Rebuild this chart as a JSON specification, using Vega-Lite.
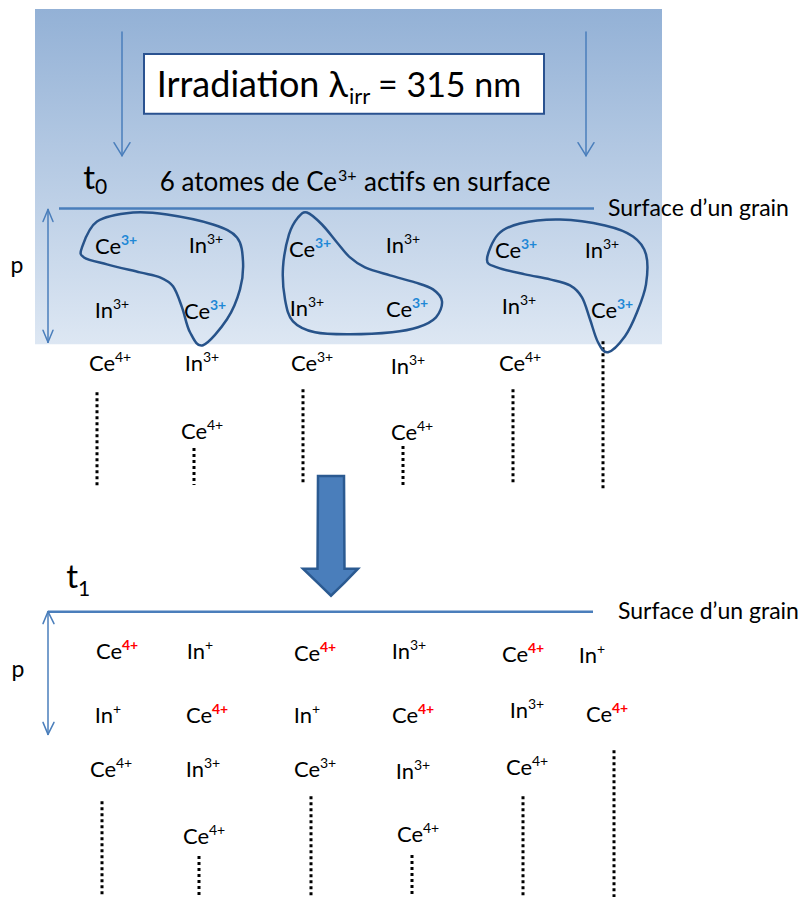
{
  "$schema": "https://vega.github.io/schema/vega-lite/v6.json",
  "width": 804,
  "height": 899,
  "padding": 0,
  "autosize": {"type": "fit", "contains": "padding"},
  "background": "white",
  "config": {"view": {"stroke": null}, "text": {"font": "Lato"}},
  "datasets": {
    "panel": [{"x": 35, "x2": 662, "y": 9, "y2": 345}],
    "box": [{"x": 144, "x2": 544, "y": 54, "y2": 114}],
    "blueThin": [
      {"x": 122, "y": 32, "x2": 122, "y2": 156},
      {"x": 114, "y": 143, "x2": 122, "y2": 156},
      {"x": 130, "y": 143, "x2": 122, "y2": 156},
      {"x": 586, "y": 32, "x2": 586, "y2": 156},
      {"x": 578, "y": 143, "x2": 586, "y2": 156},
      {"x": 594, "y": 143, "x2": 586, "y2": 156},
      {"x": 48, "y": 210, "x2": 48, "y2": 343},
      {"x": 43, "y": 222, "x2": 48, "y2": 210},
      {"x": 53, "y": 222, "x2": 48, "y2": 210},
      {"x": 43, "y": 331, "x2": 48, "y2": 343},
      {"x": 53, "y": 331, "x2": 48, "y2": 343},
      {"x": 48, "y": 613, "x2": 48, "y2": 736},
      {"x": 43, "y": 625, "x2": 48, "y2": 613},
      {"x": 54, "y": 625, "x2": 48, "y2": 613},
      {"x": 43, "y": 724, "x2": 48, "y2": 736},
      {"x": 54, "y": 724, "x2": 48, "y2": 736}
    ],
    "surfaces": [
      {"x": 59, "y": 209, "x2": 594, "y2": 209},
      {"x": 48, "y": 613, "x2": 593, "y2": 613}
    ],
    "dots": [
      {"x": 97, "y": 393, "y2": 489},
      {"x": 194, "y": 449, "y2": 486},
      {"x": 303, "y": 390, "y2": 485},
      {"x": 403, "y": 447, "y2": 486},
      {"x": 513, "y": 390, "y2": 485},
      {"x": 603, "y": 342, "y2": 491},
      {"x": 102, "y": 803, "y2": 899},
      {"x": 199, "y": 858, "y2": 899},
      {"x": 311, "y": 798, "y2": 899},
      {"x": 412, "y": 857, "y2": 899},
      {"x": 523, "y": 798, "y2": 899},
      {"x": 614, "y": 752, "y2": 899}
    ],
    "blobs": [
      {"blob": "A", "i": 1, "x": 82, "y": 248},
      {"blob": "A", "i": 2, "x": 97, "y": 222},
      {"blob": "A", "i": 3, "x": 133, "y": 213},
      {"blob": "A", "i": 4, "x": 167, "y": 215},
      {"blob": "A", "i": 5, "x": 213, "y": 225},
      {"blob": "A", "i": 6, "x": 237, "y": 238},
      {"blob": "A", "i": 7, "x": 243, "y": 262},
      {"blob": "A", "i": 8, "x": 240, "y": 290},
      {"blob": "A", "i": 9, "x": 227, "y": 320},
      {"blob": "A", "i": 10, "x": 203, "y": 346},
      {"blob": "A", "i": 11, "x": 190, "y": 333},
      {"blob": "A", "i": 12, "x": 182, "y": 308},
      {"blob": "A", "i": 13, "x": 173, "y": 287},
      {"blob": "A", "i": 14, "x": 160, "y": 278},
      {"blob": "A", "i": 15, "x": 140, "y": 273},
      {"blob": "A", "i": 16, "x": 107, "y": 265},
      {"blob": "A", "i": 17, "x": 84, "y": 258},
      {"blob": "B", "i": 1, "x": 307, "y": 213},
      {"blob": "B", "i": 2, "x": 322, "y": 225},
      {"blob": "B", "i": 3, "x": 337, "y": 243},
      {"blob": "B", "i": 4, "x": 350, "y": 258},
      {"blob": "B", "i": 5, "x": 365, "y": 268},
      {"blob": "B", "i": 6, "x": 390, "y": 276},
      {"blob": "B", "i": 7, "x": 415, "y": 283},
      {"blob": "B", "i": 8, "x": 433, "y": 290},
      {"blob": "B", "i": 9, "x": 442, "y": 302},
      {"blob": "B", "i": 10, "x": 436, "y": 318},
      {"blob": "B", "i": 11, "x": 418, "y": 328},
      {"blob": "B", "i": 12, "x": 392, "y": 333},
      {"blob": "B", "i": 13, "x": 350, "y": 335},
      {"blob": "B", "i": 14, "x": 315, "y": 333},
      {"blob": "B", "i": 15, "x": 293, "y": 322},
      {"blob": "B", "i": 16, "x": 285, "y": 300},
      {"blob": "B", "i": 17, "x": 283, "y": 268},
      {"blob": "B", "i": 18, "x": 289, "y": 235},
      {"blob": "B", "i": 19, "x": 298, "y": 218},
      {"blob": "C", "i": 1, "x": 487, "y": 260},
      {"blob": "C", "i": 2, "x": 498, "y": 235},
      {"blob": "C", "i": 3, "x": 520, "y": 224},
      {"blob": "C", "i": 4, "x": 560, "y": 220},
      {"blob": "C", "i": 5, "x": 605, "y": 226},
      {"blob": "C", "i": 6, "x": 633, "y": 237},
      {"blob": "C", "i": 7, "x": 646, "y": 255},
      {"blob": "C", "i": 8, "x": 646, "y": 285},
      {"blob": "C", "i": 9, "x": 637, "y": 313},
      {"blob": "C", "i": 10, "x": 625, "y": 337},
      {"blob": "C", "i": 11, "x": 608, "y": 353},
      {"blob": "C", "i": 12, "x": 598, "y": 343},
      {"blob": "C", "i": 13, "x": 590, "y": 320},
      {"blob": "C", "i": 14, "x": 582, "y": 298},
      {"blob": "C", "i": 15, "x": 570, "y": 286},
      {"blob": "C", "i": 16, "x": 550, "y": 280},
      {"blob": "C", "i": 17, "x": 525, "y": 275},
      {"blob": "C", "i": 18, "x": 497, "y": 268}
    ],
    "bigArrow": [
      {"x": 303, "y": 570, "y2": 570},
      {"x": 317.5, "y": 570, "y2": 584},
      {"x": 318, "y": 477, "y2": 584.5},
      {"x": 331, "y": 477, "y2": 597},
      {"x": 344, "y": 477, "y2": 584.5},
      {"x": 344.5, "y": 570, "y2": 584},
      {"x": 358, "y": 570, "y2": 570}
    ],
    "labels": [
      {"text": "Irradiation λ", "x": 348, "y": 97, "role": "bigR"},
      {"text": "irr", "x": 349, "y": 104, "role": "bigSub"},
      {"text": "= 315 nm", "x": 378, "y": 97, "role": "bigL"},
      {"text": "t", "x": 95, "y": 189, "role": "tR"},
      {"text": "0", "x": 95, "y": 194, "role": "tSub"},
      {"text": "t", "x": 78, "y": 589, "role": "tR"},
      {"text": "1", "x": 78, "y": 597, "role": "tSub"},
      {"text": "6 atomes de Ce", "x": 337, "y": 191, "role": "capR"},
      {"text": "3+", "x": 338, "y": 181, "role": "capSup"},
      {"text": "actifs en surface", "x": 364, "y": 191, "role": "capL"},
      {"text": "Surface d’un grain", "x": 608, "y": 209, "role": "surf"},
      {"text": "Surface d’un grain", "x": 618, "y": 613, "role": "surf"},
      {"text": "p", "x": 17, "y": 267, "role": "p"},
      {"text": "p", "x": 18, "y": 671, "role": "p"}
    ],
    "ions": [
      {"base": "Ce", "sup": "3+", "x": 121, "y": 248, "state": "actif"},
      {"base": "In", "sup": "3+", "x": 207, "y": 247, "state": "normal"},
      {"base": "Ce", "sup": "3+", "x": 315, "y": 251, "state": "actif"},
      {"base": "In", "sup": "3+", "x": 404, "y": 247, "state": "normal"},
      {"base": "Ce", "sup": "3+", "x": 521, "y": 252, "state": "actif"},
      {"base": "In", "sup": "3+", "x": 603, "y": 252, "state": "normal"},
      {"base": "In", "sup": "3+", "x": 113, "y": 312, "state": "normal"},
      {"base": "Ce", "sup": "3+", "x": 210, "y": 313, "state": "actif"},
      {"base": "In", "sup": "3+", "x": 308, "y": 310, "state": "normal"},
      {"base": "Ce", "sup": "3+", "x": 412, "y": 311, "state": "actif"},
      {"base": "In", "sup": "3+", "x": 520, "y": 308, "state": "normal"},
      {"base": "Ce", "sup": "3+", "x": 617, "y": 312, "state": "actif"},
      {"base": "Ce", "sup": "4+", "x": 115, "y": 365, "state": "normal"},
      {"base": "In", "sup": "3+", "x": 203, "y": 365, "state": "normal"},
      {"base": "Ce", "sup": "3+", "x": 317, "y": 365, "state": "normal"},
      {"base": "In", "sup": "3+", "x": 409, "y": 368, "state": "normal"},
      {"base": "Ce", "sup": "4+", "x": 525, "y": 365, "state": "normal"},
      {"base": "Ce", "sup": "4+", "x": 207, "y": 433, "state": "normal"},
      {"base": "Ce", "sup": "4+", "x": 417, "y": 434, "state": "normal"},
      {"base": "Ce", "sup": "4+", "x": 122, "y": 653, "state": "oxyde"},
      {"base": "In", "sup": "+", "x": 205, "y": 653, "state": "normal"},
      {"base": "Ce", "sup": "4+", "x": 320, "y": 655, "state": "oxyde"},
      {"base": "In", "sup": "3+", "x": 410, "y": 653, "state": "normal"},
      {"base": "Ce", "sup": "4+", "x": 528, "y": 656, "state": "oxyde"},
      {"base": "In", "sup": "+", "x": 597, "y": 657, "state": "normal"},
      {"base": "In", "sup": "+", "x": 113, "y": 718, "state": "normal"},
      {"base": "Ce", "sup": "4+", "x": 212, "y": 718, "state": "oxyde"},
      {"base": "In", "sup": "+", "x": 312, "y": 718, "state": "normal"},
      {"base": "Ce", "sup": "4+", "x": 418, "y": 718, "state": "oxyde"},
      {"base": "In", "sup": "3+", "x": 528, "y": 713, "state": "normal"},
      {"base": "Ce", "sup": "4+", "x": 612, "y": 717, "state": "oxyde"},
      {"base": "Ce", "sup": "4+", "x": 116, "y": 772, "state": "normal"},
      {"base": "In", "sup": "3+", "x": 204, "y": 772, "state": "normal"},
      {"base": "Ce", "sup": "3+", "x": 320, "y": 772, "state": "normal"},
      {"base": "In", "sup": "3+", "x": 414, "y": 774, "state": "normal"},
      {"base": "Ce", "sup": "4+", "x": 532, "y": 770, "state": "normal"},
      {"base": "Ce", "sup": "4+", "x": 209, "y": 839, "state": "normal"},
      {"base": "Ce", "sup": "4+", "x": 423, "y": 837, "state": "normal"}
    ]
  },
  "layer": [
    {
      "data": {"name": "panel"},
      "mark": {"type": "rect", "color": {"gradient": "linear", "x1": 0, "y1": 0, "x2": 0, "y2": 1, "stops": [{"offset": 0, "color": "#93b1d6"}, {"offset": 1, "color": "#dde7f3"}]}},
      "encoding": {
        "x": {"field": "x", "type": "quantitative", "scale": {"domain": [0, 804], "nice": false, "zero": false}, "axis": null},
        "x2": {"field": "x2"},
        "y": {"field": "y", "type": "quantitative", "scale": {"domain": [0, 899], "nice": false, "zero": false, "reverse": true}, "axis": null},
        "y2": {"field": "y2"}
      }
    },
    {
      "data": {"name": "box"},
      "mark": {"type": "rect", "fill": "white", "stroke": "#2a5290", "strokeWidth": 2},
      "encoding": {
        "x": {"field": "x", "type": "quantitative", "scale": {"domain": [0, 804], "nice": false, "zero": false}, "axis": null},
        "x2": {"field": "x2"},
        "y": {"field": "y", "type": "quantitative", "scale": {"domain": [0, 899], "nice": false, "zero": false, "reverse": true}, "axis": null},
        "y2": {"field": "y2"}
      }
    },
    {
      "data": {"name": "blueThin"},
      "mark": {"type": "rule", "color": "#4a7ebb", "strokeWidth": 1.5, "strokeCap": "round"},
      "encoding": {
        "x": {"field": "x", "type": "quantitative", "scale": {"domain": [0, 804], "nice": false, "zero": false}, "axis": null},
        "x2": {"field": "x2"},
        "y": {"field": "y", "type": "quantitative", "scale": {"domain": [0, 899], "nice": false, "zero": false, "reverse": true}, "axis": null},
        "y2": {"field": "y2"}
      }
    },
    {
      "data": {"name": "surfaces"},
      "mark": {"type": "rule", "color": "#4a7ebb", "strokeWidth": 2.5},
      "encoding": {
        "x": {"field": "x", "type": "quantitative", "scale": {"domain": [0, 804], "nice": false, "zero": false}, "axis": null},
        "x2": {"field": "x2"},
        "y": {"field": "y", "type": "quantitative", "scale": {"domain": [0, 899], "nice": false, "zero": false, "reverse": true}, "axis": null},
        "y2": {"field": "y2"}
      }
    },
    {
      "data": {"name": "dots"},
      "mark": {"type": "rule", "color": "#000000", "strokeWidth": 3, "strokeDash": [3, 3]},
      "encoding": {
        "x": {"field": "x", "type": "quantitative", "scale": {"domain": [0, 804], "nice": false, "zero": false}, "axis": null},
        "y": {"field": "y", "type": "quantitative", "scale": {"domain": [0, 899], "nice": false, "zero": false, "reverse": true}, "axis": null},
        "y2": {"field": "y2"}
      }
    },
    {
      "data": {"name": "bigArrow"},
      "mark": {"type": "area", "fill": "#4a7ebb", "stroke": "#2b5a91", "strokeWidth": 2.5, "strokeJoin": "miter", "opacity": 1},
      "encoding": {
        "x": {"field": "x", "type": "quantitative", "scale": {"domain": [0, 804], "nice": false, "zero": false}, "axis": null},
        "y": {"field": "y", "type": "quantitative", "scale": {"domain": [0, 899], "nice": false, "zero": false, "reverse": true}, "axis": null},
        "y2": {"field": "y2"}
      }
    },
    {
      "data": {"name": "ions"},
      "mark": {"type": "text", "align": "right", "baseline": "middle", "fontSize": 22, "color": "#000000"},
      "encoding": {
        "x": {"field": "x", "type": "quantitative", "scale": {"domain": [0, 804], "nice": false, "zero": false}, "axis": null},
        "y": {"field": "y", "type": "quantitative", "scale": {"domain": [0, 899], "nice": false, "zero": false, "reverse": true}, "axis": null},
        "text": {"field": "base"}
      }
    },
    {
      "data": {"name": "ions"},
      "transform": [{"filter": "datum.state == 'normal'"}],
      "mark": {"type": "text", "align": "left", "baseline": "middle", "fontSize": 14, "dy": -6, "color": "#000000"},
      "encoding": {
        "x": {"field": "x", "type": "quantitative", "scale": {"domain": [0, 804], "nice": false, "zero": false}, "axis": null},
        "y": {"field": "y", "type": "quantitative", "scale": {"domain": [0, 899], "nice": false, "zero": false, "reverse": true}, "axis": null},
        "text": {"field": "sup"}
      }
    },
    {
      "data": {"name": "ions"},
      "transform": [{"filter": "datum.state != 'normal'"}],
      "mark": {"type": "text", "align": "left", "baseline": "middle", "fontSize": 14, "dy": -6, "fontWeight": "bold"},
      "encoding": {
        "x": {"field": "x", "type": "quantitative", "scale": {"domain": [0, 804], "nice": false, "zero": false}, "axis": null},
        "y": {"field": "y", "type": "quantitative", "scale": {"domain": [0, 899], "nice": false, "zero": false, "reverse": true}, "axis": null},
        "text": {"field": "sup"},
        "color": {"field": "state", "type": "nominal", "scale": {"domain": ["actif", "oxyde"], "range": ["#1f88d6", "#ff0000"]}, "legend": null}
      }
    },
    {
      "data": {"name": "blobs"},
      "mark": {"type": "line", "color": "#27538a", "strokeWidth": 2.5, "interpolate": "cardinal-closed"},
      "encoding": {
        "x": {"field": "x", "type": "quantitative", "scale": {"domain": [0, 804], "nice": false, "zero": false}, "axis": null},
        "y": {"field": "y", "type": "quantitative", "scale": {"domain": [0, 899], "nice": false, "zero": false, "reverse": true}, "axis": null},
        "detail": {"field": "blob"},
        "order": {"field": "i", "type": "quantitative"}
      }
    },
    {
      "data": {"name": "labels"},
      "transform": [{"filter": "datum.role == 'bigR'"}],
      "mark": {"type": "text", "align": "right", "baseline": "alphabetic", "fontSize": 36, "color": "#000000"},
      "encoding": {
        "x": {"field": "x", "type": "quantitative", "scale": {"domain": [0, 804], "nice": false, "zero": false}, "axis": null},
        "y": {"field": "y", "type": "quantitative", "scale": {"domain": [0, 899], "nice": false, "zero": false, "reverse": true}, "axis": null},
        "text": {"field": "text"}
      }
    },
    {
      "data": {"name": "labels"},
      "transform": [{"filter": "datum.role == 'bigL'"}],
      "mark": {"type": "text", "align": "left", "baseline": "alphabetic", "fontSize": 34, "color": "#000000"},
      "encoding": {
        "x": {"field": "x", "type": "quantitative", "scale": {"domain": [0, 804], "nice": false, "zero": false}, "axis": null},
        "y": {"field": "y", "type": "quantitative", "scale": {"domain": [0, 899], "nice": false, "zero": false, "reverse": true}, "axis": null},
        "text": {"field": "text"}
      }
    },
    {
      "data": {"name": "labels"},
      "transform": [{"filter": "datum.role == 'bigSub'"}],
      "mark": {"type": "text", "align": "left", "baseline": "alphabetic", "fontSize": 22, "color": "#000000"},
      "encoding": {
        "x": {"field": "x", "type": "quantitative", "scale": {"domain": [0, 804], "nice": false, "zero": false}, "axis": null},
        "y": {"field": "y", "type": "quantitative", "scale": {"domain": [0, 899], "nice": false, "zero": false, "reverse": true}, "axis": null},
        "text": {"field": "text"}
      }
    },
    {
      "data": {"name": "labels"},
      "transform": [{"filter": "datum.role == 'tR'"}],
      "mark": {"type": "text", "align": "right", "baseline": "alphabetic", "fontSize": 33, "color": "#000000"},
      "encoding": {
        "x": {"field": "x", "type": "quantitative", "scale": {"domain": [0, 804], "nice": false, "zero": false}, "axis": null},
        "y": {"field": "y", "type": "quantitative", "scale": {"domain": [0, 899], "nice": false, "zero": false, "reverse": true}, "axis": null},
        "text": {"field": "text"}
      }
    },
    {
      "data": {"name": "labels"},
      "transform": [{"filter": "datum.role == 'tSub'"}],
      "mark": {"type": "text", "align": "left", "baseline": "alphabetic", "fontSize": 21, "color": "#000000"},
      "encoding": {
        "x": {"field": "x", "type": "quantitative", "scale": {"domain": [0, 804], "nice": false, "zero": false}, "axis": null},
        "y": {"field": "y", "type": "quantitative", "scale": {"domain": [0, 899], "nice": false, "zero": false, "reverse": true}, "axis": null},
        "text": {"field": "text"}
      }
    },
    {
      "data": {"name": "labels"},
      "transform": [{"filter": "datum.role == 'capR'"}],
      "mark": {"type": "text", "align": "right", "baseline": "alphabetic", "fontSize": 26, "color": "#000000"},
      "encoding": {
        "x": {"field": "x", "type": "quantitative", "scale": {"domain": [0, 804], "nice": false, "zero": false}, "axis": null},
        "y": {"field": "y", "type": "quantitative", "scale": {"domain": [0, 899], "nice": false, "zero": false, "reverse": true}, "axis": null},
        "text": {"field": "text"}
      }
    },
    {
      "data": {"name": "labels"},
      "transform": [{"filter": "datum.role == 'capSup'"}],
      "mark": {"type": "text", "align": "left", "baseline": "alphabetic", "fontSize": 16, "color": "#000000"},
      "encoding": {
        "x": {"field": "x", "type": "quantitative", "scale": {"domain": [0, 804], "nice": false, "zero": false}, "axis": null},
        "y": {"field": "y", "type": "quantitative", "scale": {"domain": [0, 899], "nice": false, "zero": false, "reverse": true}, "axis": null},
        "text": {"field": "text"}
      }
    },
    {
      "data": {"name": "labels"},
      "transform": [{"filter": "datum.role == 'capL'"}],
      "mark": {"type": "text", "align": "left", "baseline": "alphabetic", "fontSize": 26, "color": "#000000"},
      "encoding": {
        "x": {"field": "x", "type": "quantitative", "scale": {"domain": [0, 804], "nice": false, "zero": false}, "axis": null},
        "y": {"field": "y", "type": "quantitative", "scale": {"domain": [0, 899], "nice": false, "zero": false, "reverse": true}, "axis": null},
        "text": {"field": "text"}
      }
    },
    {
      "data": {"name": "labels"},
      "transform": [{"filter": "datum.role == 'surf'"}],
      "mark": {"type": "text", "align": "left", "baseline": "middle", "fontSize": 23, "color": "#000000"},
      "encoding": {
        "x": {"field": "x", "type": "quantitative", "scale": {"domain": [0, 804], "nice": false, "zero": false}, "axis": null},
        "y": {"field": "y", "type": "quantitative", "scale": {"domain": [0, 899], "nice": false, "zero": false, "reverse": true}, "axis": null},
        "text": {"field": "text"}
      }
    },
    {
      "data": {"name": "labels"},
      "transform": [{"filter": "datum.role == 'p'"}],
      "mark": {"type": "text", "align": "center", "baseline": "middle", "fontSize": 23, "color": "#000000"},
      "encoding": {
        "x": {"field": "x", "type": "quantitative", "scale": {"domain": [0, 804], "nice": false, "zero": false}, "axis": null},
        "y": {"field": "y", "type": "quantitative", "scale": {"domain": [0, 899], "nice": false, "zero": false, "reverse": true}, "axis": null},
        "text": {"field": "text"}
      }
    }
  ]
}
